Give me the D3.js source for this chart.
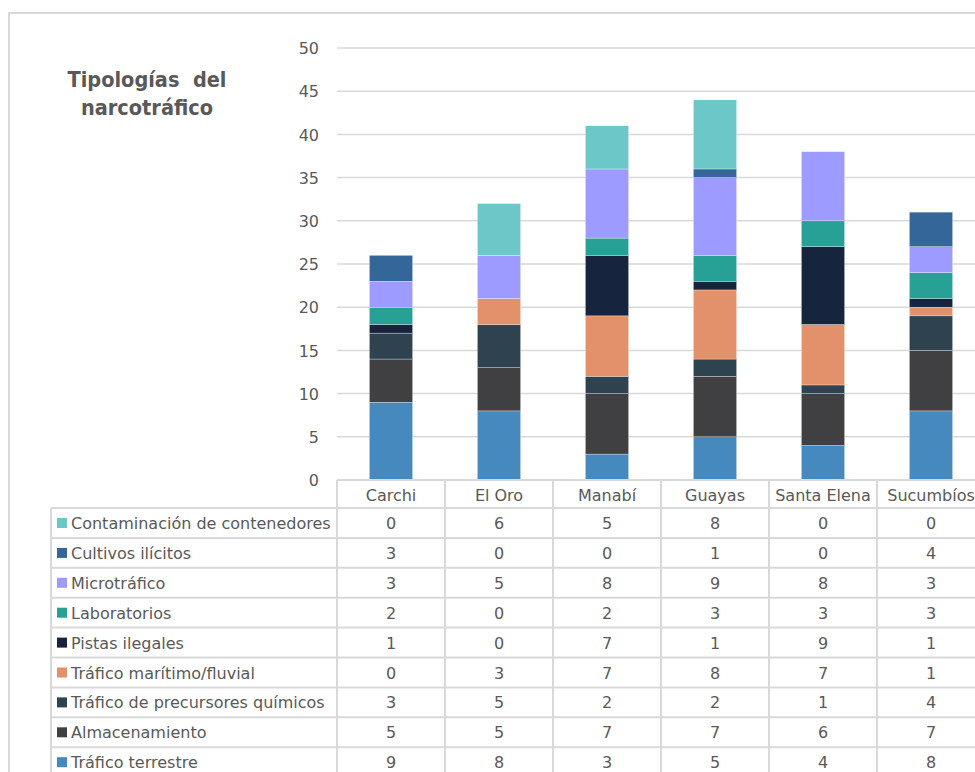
<!DOCTYPE html>
<html>
<head>
<meta charset="utf-8">
<script src="https://cdn.jsdelivr.net/npm/d3@7"></script>
<style>
  html, body { margin: 0; padding: 0; background: #fff; }
  svg { display: block; }
  text { font-family: "DejaVu Sans", sans-serif; }
  text.title { font-family: "DejaVu Sans Condensed", "DejaVu Sans", sans-serif; font-stretch: condensed; }
</style>
</head>
<body>
<svg id="chart" width="975" height="772"></svg>
<script>
// ---- Data ----
const categories = ["Carchi", "El Oro", "Manabí", "Guayas", "Santa Elena", "Sucumbíos"];
// series listed bottom (stack base) to top
const seriesNames = [
  "Tráfico terrestre",
  "Almacenamiento",
  "Tráfico de precursores químicos",
  "Tráfico marítimo/fluvial",
  "Pistas ilegales",
  "Laboratorios",
  "Microtráfico",
  "Cultivos ilícitos",
  "Contaminación de contenedores"
];
const traficoTerrestre      = [9, 8, 3, 5, 4, 8];
const almacenamiento        = [5, 5, 7, 7, 6, 7];
const precursoresQuimicos   = [3, 5, 2, 2, 1, 4];
const maritimoFluvial       = [0, 3, 7, 8, 7, 1];
const pistasIlegales        = [1, 0, 7, 1, 9, 1];
const laboratorios          = [2, 0, 2, 3, 3, 3];
const microtrafico          = [3, 5, 8, 9, 8, 3];
const cultivosIlicitos      = [3, 0, 0, 1, 0, 4];
const contaminacion         = [0, 6, 5, 8, 0, 0];
const seriesValues = [traficoTerrestre, almacenamiento, precursoresQuimicos, maritimoFluvial,
  pistasIlegales, laboratorios, microtrafico, cultivosIlicitos, contaminacion];
const seriesColors = ["#4589BE", "#404042", "#2E434F", "#E2916A", "#16243E", "#27A195", "#9D9BFF", "#346699", "#6CC8C8"];
const yTicks = [0, 5, 10, 15, 20, 25, 30, 35, 40, 45, 50];
const titleLines = ["Tipologías  del", "narcotráfico"];

// ---- Layout ----
const svg = d3.select("#chart");
const plotLeft = 337, plotRight = 985, plotTop = 48, plotBottom = 480;
const tableLeft = 51, headerH = 28, rowH = 29.9;
const textColor = "#595959", lineColor = "#D9D9D9";

// outer chart border
svg.append("rect").attr("x", 9).attr("y", 13).attr("width", 1000).attr("height", 800)
  .attr("fill", "none").attr("stroke", lineColor).attr("stroke-width", 2);

const x = d3.scaleBand().domain(categories).range([plotLeft, plotRight]).padding(0);
const y = d3.scaleLinear().domain([0, 50]).range([plotBottom, plotTop]);

// gridlines
svg.append("g").selectAll("line").data(yTicks.filter(t => t > 0)).join("line")
  .attr("x1", plotLeft).attr("x2", plotRight)
  .attr("y1", d => y(d)).attr("y2", d => y(d))
  .attr("stroke", lineColor).attr("stroke-width", 1.5);

// y axis labels
const yAxis = d3.axisLeft(y).tickValues(yTicks).tickSize(0).tickPadding(0);
const gy = svg.append("g").attr("transform", "translate(319,0)").call(yAxis);
gy.select(".domain").remove();
gy.selectAll("text").attr("fill", textColor).attr("font-size", 16)
  .style("font-family", '"DejaVu Sans", sans-serif').attr("dy", "0.36em");

// stacked bars
const table = categories.map((c, i) => {
  const row = { cat: c };
  seriesNames.forEach((s, j) => row[s] = seriesValues[j][i]);
  return row;
});
const stacked = d3.stack().keys(seriesNames)(table);
const barW = x.bandwidth() * 0.4;
svg.append("g").selectAll("g").data(stacked).join("g")
  .attr("fill", (d, i) => seriesColors[i])
  .selectAll("rect").data(d => d.filter(p => p[1] - p[0] > 0)).join("rect")
  .attr("x", d => x(d.data.cat) + (x.bandwidth() - barW) / 2)
  .attr("width", barW)
  .attr("y", d => y(d[1]))
  .attr("height", d => y(d[0]) - y(d[1]))
  .attr("stroke", "#ffffff").attr("stroke-width", 0.5).attr("stroke-opacity", 0.6);

// ---- Data table ----
const tg = svg.append("g");
const nRows = seriesNames.length;
const bodyTop = plotBottom + headerH;
const rowsTopDown = seriesNames.slice().reverse();
const valuesTopDown = seriesValues.slice().reverse();
const colorsTopDown = seriesColors.slice().reverse();
const tableBottom = bodyTop + nRows * rowH;

tg.append("line").attr("x1", plotLeft).attr("x2", plotRight).attr("y1", plotBottom).attr("y2", plotBottom)
  .attr("stroke", lineColor).attr("stroke-width", 2);
d3.range(nRows + 1).forEach(i => {
  tg.append("line").attr("x1", tableLeft).attr("x2", plotRight)
    .attr("y1", bodyTop + i * rowH).attr("y2", bodyTop + i * rowH)
    .attr("stroke", lineColor).attr("stroke-width", 2);
});
tg.append("line").attr("x1", tableLeft).attr("x2", tableLeft).attr("y1", bodyTop).attr("y2", tableBottom)
  .attr("stroke", lineColor).attr("stroke-width", 2);
categories.forEach(c => {
  tg.append("line").attr("x1", x(c)).attr("x2", x(c)).attr("y1", plotBottom).attr("y2", tableBottom)
    .attr("stroke", lineColor).attr("stroke-width", 2);
});

// header labels
tg.selectAll("text.hdr").data(categories).join("text").attr("class", "hdr")
  .attr("x", d => x(d) + x.bandwidth() / 2).attr("y", plotBottom + 21)
  .attr("text-anchor", "middle").attr("font-size", 16).attr("fill", textColor).text(d => d);

// rows
rowsTopDown.forEach((name, r) => {
  const ry = bodyTop + r * rowH;
  tg.append("rect").attr("x", 57).attr("y", ry + 10).attr("width", 10).attr("height", 10)
    .attr("fill", colorsTopDown[r]);
  tg.append("text").attr("x", 71).attr("y", ry + 21).attr("font-size", 16)
    .attr("fill", textColor).text(name);
  categories.forEach((c, i) => {
    tg.append("text").attr("x", x(c) + x.bandwidth() / 2).attr("y", ry + 21)
      .attr("text-anchor", "middle").attr("font-size", 16).attr("fill", textColor)
      .text(valuesTopDown[r][i]);
  });
});

// title
svg.append("g").selectAll("text").data(titleLines).join("text").attr("class", "title")
  .attr("x", 147).attr("y", (d, i) => 87 + i * 28)
  .attr("text-anchor", "middle").attr("font-size", 21.5).attr("font-weight", "bold")
  .attr("fill", textColor).style("white-space", "pre").text(d => d);
</script>
</body>
</html>
